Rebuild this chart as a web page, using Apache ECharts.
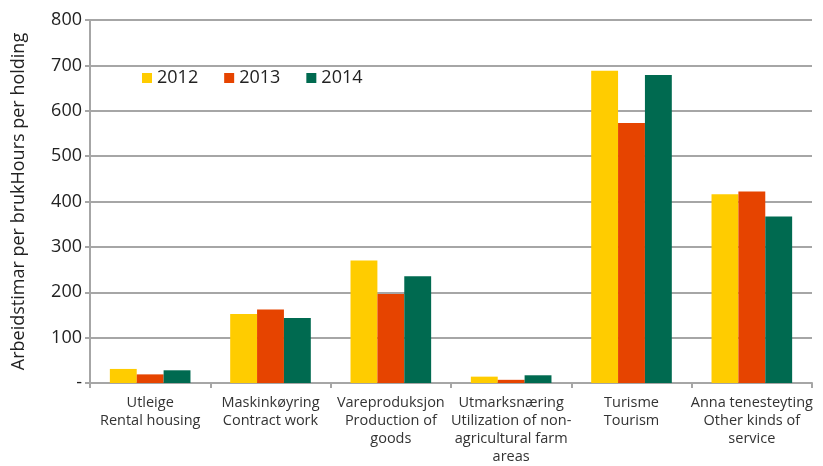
<!DOCTYPE html>
<html lang="en">
<head>
    <meta charset="UTF-8">
    <title>Arbeidstimar per bruk</title>
    <style>
        html, body { margin: 0; padding: 0; background: #fff; }
        #chart { width: 823px; height: 466px; }
    </style>
</head>
<body>
    <div id="chart"></div>
    <script src="https://cdn.jsdelivr.net/npm/echarts@6/dist/echarts.min.js"></script>
    <script>
        // kategoriar
        var categories = [
            'Utleige\nRental housing',
            'Maskinkøyring\nContract work',
            'Vareproduksjon\nProduction of\ngoods',
            'Utmarksnæring\nUtilization of non-\nagricultural farm\nareas',
            'Turisme\nTourism',
            'Anna tenesteyting\nOther kinds of\nservice'
        ];
        var years = ['2012', '2013', '2014'];
        var v2012 = [31, 152, 270, 14, 688, 416];
        var v2013 = [19, 162, 196, 7, 573, 422];
        var v2014 = [28, 143, 235, 17, 679, 367];
        var colors = ['#ffcc00', '#e64400', '#006a50'];

        var font = 'Open Sans';
        var gridColor = '#a6a6a6';

        var values = [v2012, v2013, v2014];
        var series = years.map(function (y, i) {
            return {
                name: y,
                type: 'bar',
                data: values[i],
                barGap: '0%',
                barCategoryGap: '33%',
                itemStyle: { color: colors[i] }
            };
        });

        var option = {
            animation: false,
            textStyle: { fontFamily: font },
            color: colors,
            legend: {
                data: years,
                left: 137,
                top: 64,
                itemWidth: 10,
                itemHeight: 10,
                itemGap: 26,
                icon: 'rect',
                textStyle: { fontSize: 18, color: '#222', fontFamily: font }
            },
            grid: { left: 90, right: 11, top: 20, bottom: 81, containLabel: false },
            xAxis: {
                type: 'category',
                data: categories,
                axisLine: { lineStyle: { color: gridColor, width: 2 } },
                axisTick: { show: true, length: 5, lineStyle: { color: gridColor, width: 2 } },
                axisLabel: {
                    interval: 0,
                    color: '#333',
                    fontSize: 14.5,
                    lineHeight: 18,
                    margin: 11,
                    fontFamily: font
                }
            },
            yAxis: {
                type: 'value',
                min: 0,
                max: 800,
                interval: 100,
                name: 'Arbeidstimar per brukHours per holding',
                nameLocation: 'middle',
                nameGap: 62,
                nameTextStyle: { fontSize: 18, color: '#222', fontFamily: font },
                axisLine: { show: true, lineStyle: { color: gridColor, width: 2 } },
                axisTick: { show: true, length: 5, lineStyle: { color: gridColor, width: 2 } },
                splitLine: { lineStyle: { color: gridColor, width: 2 } },
                axisLabel: {
                    color: '#222',
                    fontSize: 18,
                    margin: 8,
                    fontFamily: font,
                    formatter: function (v) { return v === 0 ? '-' : v; }
                }
            },
            series: series
        };

        var myChart = echarts.init(document.getElementById('chart'));
        myChart.setOption(option);
        window.onresize = function () {
            myChart.resize();
        };
    </script>
</body>
</html>
